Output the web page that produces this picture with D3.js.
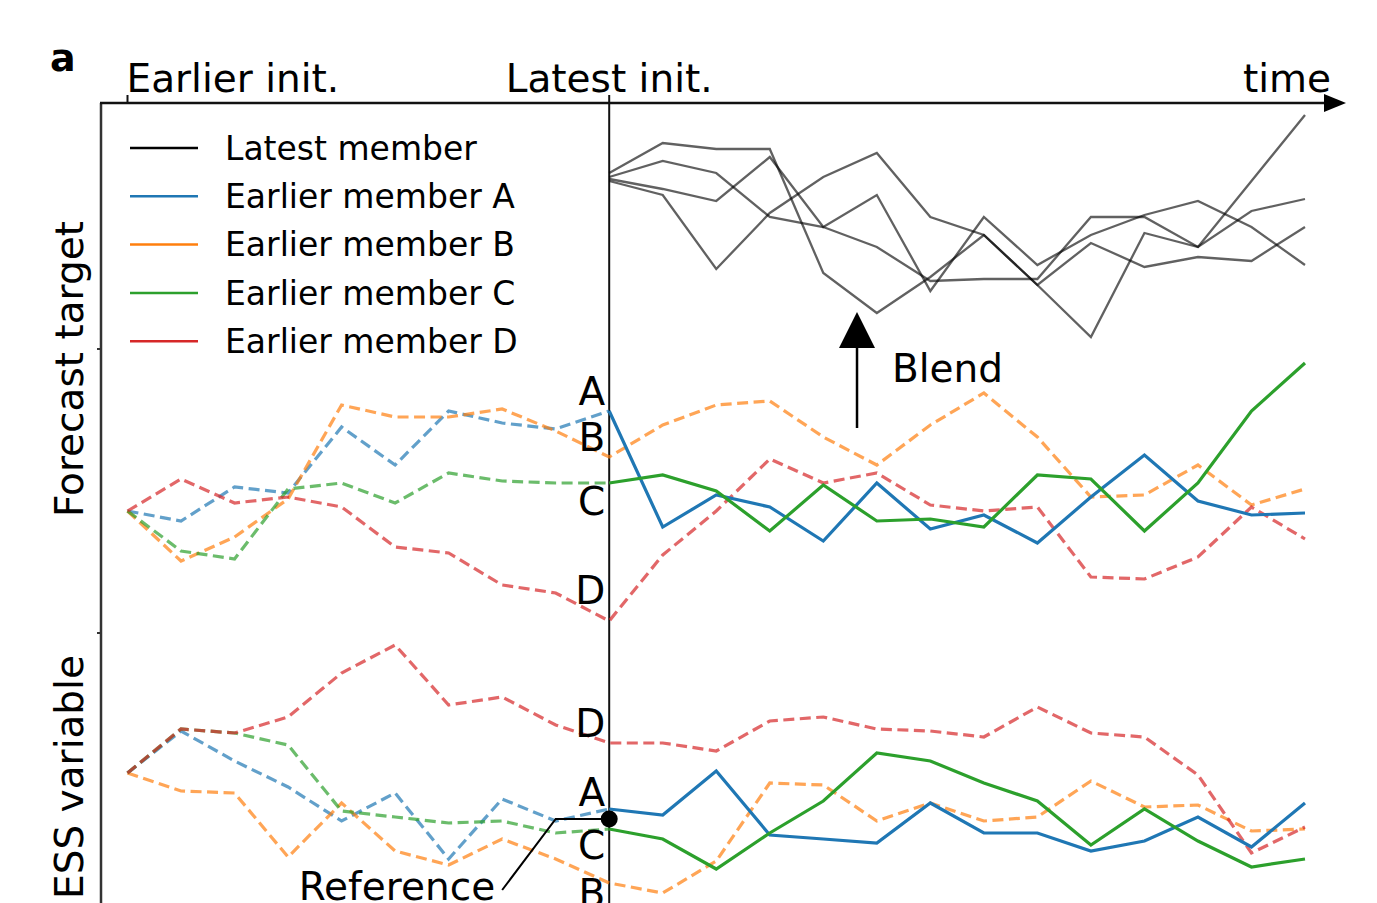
<!DOCTYPE html>
<html>
<head>
<meta charset="utf-8">
<script src="https://cdn.jsdelivr.net/npm/d3@7"></script>
<style>
  body { margin: 0; background: #fff; }
  svg { display: block; }
  text { font-family: "DejaVu Sans", sans-serif; fill: #000; }
</style>
</head>
<body>
<svg id="chart" width="1377" height="903"></svg>
<script>
// time steps: 0 = earlier init, 9 = latest init, 22 = end of forecast
const steps = d3.range(23);
const latestInit = 9;

const members = ['A', 'B', 'C', 'D'];
const memberColors = ['#1f77b4', '#ff7f0e', '#2ca02c', '#d62728'];
const solidAfterInit = [true, false, true, false];
const legendLabels = ['Latest member', 'Earlier member A', 'Earlier member B', 'Earlier member C', 'Earlier member D'];

// latest members, forecast target, steps 9..22
const latestMembers = [
  [16.9, 18.4, 18.1, 18.1, 11.9, 9.9, 11.7, 13.8, 11.3, 8.7, 13.9, 13.2, 16.5, 19.8],
  [16.7, 17.5, 16.9, 14.7, 14.2, 13.2, 11.5, 11.6, 11.6, 14.7, 14.7, 13.2, 15.0, 15.6],
  [16.6, 16.1, 15.5, 17.7, 14.2, 15.8, 11.0, 14.7, 12.3, 13.8, 14.8, 15.5, 14.2, 12.3],
  [16.5, 15.8, 12.1, 14.9, 16.7, 17.9, 14.7, 13.8, 11.3, 13.4, 12.2, 12.7, 12.5, 14.2]
];

// earlier members, forecast target, steps 0..22
const targetA = [0, -0.5, 1.2, 0.9, 4.2, 2.3, 5.0, 4.4, 4.1, 5.0, -0.8, 0.8, 0.2, -1.5, 1.4, -0.9, -0.2, -1.6, 0.7, 2.8, 0.5, -0.2, -0.1];
const targetB = [0, -2.5, -1.3, 0.6, 5.3, 4.7, 4.7, 5.1, 4.0, 2.7, 4.3, 5.3, 5.5, 3.7, 2.3, 4.3, 5.9, 3.7, 0.7, 0.8, 2.3, 0.3, 1.1];
const targetC = [0, -2.0, -2.4, 1.1, 1.4, 0.4, 1.9, 1.5, 1.4, 1.4, 1.8, 1.0, -1.0, 1.3, -0.5, -0.4, -0.8, 1.8, 1.6, -1.0, 1.4, 5.0, 7.4];
const targetD = [0, 1.6, 0.4, 0.7, 0.2, -1.8, -2.1, -3.7, -4.1, -5.5, -2.2, 0.0, 2.6, 1.4, 1.9, 0.3, 0.0, 0.2, -3.3, -3.4, -2.3, 0.2, -1.4];

// earlier members, ESS variable, steps 0..22
const essA = [0, 2.1, 0.6, -0.7, -2.4, -1.0, -4.3, -1.3, -2.4, -1.8, -2.1, 0.1, -3.1, -3.3, -3.5, -1.5, -3.0, -3.0, -3.9, -3.4, -2.2, -3.7, -1.5];
const essB = [0, -0.9, -1.0, -4.2, -1.5, -3.9, -4.6, -3.3, -4.3, -5.5, -6.0, -4.4, -0.5, -0.6, -2.4, -1.5, -2.4, -2.2, -0.4, -1.7, -1.6, -2.9, -2.8];
const essC = [0, 2.2, 2.0, 1.4, -1.9, -2.2, -2.5, -2.4, -3.0, -2.8, -3.3, -4.8, -3.0, -1.4, 1.0, 0.6, -0.5, -1.4, -3.6, -1.8, -3.4, -4.7, -4.3];
const essD = [0, 2.2, 2.0, 2.8, 5.0, 6.4, 3.4, 3.8, 2.4, 1.5, 1.5, 1.1, 2.6, 2.8, 2.2, 2.1, 1.8, 3.3, 2.0, 1.8, -0.1, -4.0, -2.7];

// letters next to the latest init line (value where the letter sits)
const targetLetterValues = [6.0, 3.7, 0.5, -3.95];
const essLetterValues = [-0.95, -6.0, -3.6, 2.5];
const referenceValue = -2.3;

const svg = d3.select('#chart');
const fontSize = 39;

const x = d3.scaleLinear().domain([0, 22]).range([127.5, 1305]);
const yTarget = d3.scaleLinear().domain([-6, 20]).range([631, 111]);
const yEss = d3.scaleLinear().domain([-6.5, 7]).range([903, 633]);

const targetSeries = [targetA, targetB, targetC, targetD];
const essSeries = [essA, essB, essC, essD];

// axes / frame
const axisTop = 103;
const axisLeft = 101;

svg.append('line')
  .attr('x1', axisLeft).attr('x2', axisLeft)
  .attr('y1', axisTop).attr('y2', 903)
  .attr('stroke', '#333').attr('stroke-width', 2.5);

// small ticks on the left spine at the panel edges
[yTarget(8.1), yEss(7)].forEach(ty => {
  svg.append('line')
    .attr('x1', axisLeft - 4).attr('x2', axisLeft)
    .attr('y1', ty).attr('y2', ty)
    .attr('stroke', '#333').attr('stroke-width', 2);
});

// latest init vertical line
svg.append('line')
  .attr('x1', x(latestInit)).attr('x2', x(latestInit))
  .attr('y1', axisTop - 8).attr('y2', 903)
  .attr('stroke', '#111').attr('stroke-width', 2);

// earlier init tick
svg.append('line')
  .attr('x1', x(0)).attr('x2', x(0))
  .attr('y1', axisTop - 8).attr('y2', axisTop)
  .attr('stroke', '#111').attr('stroke-width', 2);

// time axis with arrow
svg.append('line')
  .attr('x1', axisLeft - 1).attr('x2', 1330)
  .attr('y1', axisTop).attr('y2', axisTop)
  .attr('stroke', '#111').attr('stroke-width', 2.5);
svg.append('path')
  .attr('d', `M1324,${axisTop - 9} L1346,${axisTop} L1324,${axisTop + 9} Z`)
  .attr('fill', '#000');

svg.append('text').attr('x', x(0) - 1).attr('y', 92)
  .attr('font-size', fontSize).text('Earlier init.');
svg.append('text').attr('x', x(latestInit)).attr('y', 92)
  .attr('font-size', fontSize).attr('text-anchor', 'middle').text('Latest init.');
svg.append('text').attr('x', 1331).attr('y', 92)
  .attr('font-size', fontSize).attr('text-anchor', 'end').text('time');

svg.append('text').attr('x', 50).attr('y', 71)
  .attr('font-size', 38).attr('font-weight', 'bold').text('a');

// y labels
svg.append('text')
  .attr('transform', `translate(83,${(axisTop + yTarget.range()[0]) / 2 + 2}) rotate(-90)`)
  .attr('font-size', fontSize).attr('text-anchor', 'middle').text('Forecast target');
svg.append('text')
  .attr('transform', `translate(83,${yEss(0) + 4}) rotate(-90)`)
  .attr('font-size', fontSize).attr('text-anchor', 'middle').text('ESS variable');

// line generators
const lineTarget = d3.line().x(d => x(d[0])).y(d => yTarget(d[1]));
const lineEss = d3.line().x(d => x(d[0])).y(d => yEss(d[1]));

// latest members (grey)
latestMembers.forEach(vals => {
  svg.append('path')
    .datum(vals.map((v, i) => [latestInit + i, v]))
    .attr('d', lineTarget)
    .attr('fill', 'none')
    .attr('stroke', '#000').attr('stroke-opacity', 0.62)
    .attr('stroke-width', 2.3)
    .attr('stroke-linejoin', 'miter');
});

function drawMembers(seriesList, line) {
  // dashed parts first
  seriesList.forEach((vals, m) => {
    const pts = steps.map(i => [i, vals[i]]);
    const dashed = solidAfterInit[m] ? pts.slice(0, latestInit + 1) : pts;
    svg.append('path')
      .datum(dashed)
      .attr('d', line)
      .attr('fill', 'none')
      .attr('stroke', memberColors[m]).attr('stroke-opacity', 0.7)
      .attr('stroke-width', 3.2)
      .attr('stroke-dasharray', '11,5.5');
  });
  seriesList.forEach((vals, m) => {
    if (!solidAfterInit[m]) return;
    const pts = steps.map(i => [i, vals[i]]).slice(latestInit);
    svg.append('path')
      .datum(pts)
      .attr('d', line)
      .attr('fill', 'none')
      .attr('stroke', memberColors[m])
      .attr('stroke-width', 3.2);
  });
}

drawMembers(targetSeries, lineTarget);
drawMembers(essSeries, lineEss);

// letters at latest init
members.forEach((name, m) => {
  svg.append('text')
    .attr('x', x(latestInit) - 4).attr('y', yTarget(targetLetterValues[m]))
    .attr('dy', '0.36em').attr('text-anchor', 'end')
    .attr('font-size', fontSize).text(name);
  svg.append('text')
    .attr('x', x(latestInit) - 4).attr('y', yEss(essLetterValues[m]))
    .attr('dy', '0.36em').attr('text-anchor', 'end')
    .attr('font-size', fontSize).text(name);
});

// blend arrow
const blendStep = 13.63;
svg.append('line')
  .attr('x1', x(blendStep)).attr('x2', x(blendStep))
  .attr('y1', yTarget(4.15)).attr('y2', yTarget(8.3))
  .attr('stroke', '#000').attr('stroke-width', 2.5);
svg.append('path')
  .attr('d', `M${x(blendStep) - 18},${yTarget(8.15)} L${x(blendStep)},${yTarget(9.95)} L${x(blendStep) + 18},${yTarget(8.15)} Z`)
  .attr('fill', '#000');
svg.append('text')
  .attr('x', x(blendStep) + 35).attr('y', yTarget(7.15))
  .attr('dy', '0.36em').attr('font-size', fontSize).text('Blend');

// reference point
svg.append('path')
  .attr('d', `M${x(7)},${yEss(-5.85)} L${x(8)},${yEss(referenceValue)} L${x(latestInit)},${yEss(referenceValue)}`)
  .attr('fill', 'none').attr('stroke', '#000').attr('stroke-width', 2);
svg.append('circle')
  .attr('cx', x(latestInit)).attr('cy', yEss(referenceValue))
  .attr('r', 8.5).attr('fill', '#000');
svg.append('text')
  .attr('x', x(7) - 7).attr('y', 900)
  .attr('text-anchor', 'end').attr('font-size', fontSize).text('Reference');

// legend
const legend = svg.append('g').attr('transform', 'translate(130,148)');
legendLabels.forEach((label, k) => {
  const g = legend.append('g').attr('transform', `translate(0,${k * 48.3})`);
  g.append('line')
    .attr('x1', 0).attr('x2', 68)
    .attr('stroke', k === 0 ? '#000' : memberColors[k - 1])
    .attr('stroke-width', 2.5);
  g.append('text')
    .attr('x', 95).attr('dy', '0.36em')
    .attr('font-size', 33).text(label);
});
</script>
</body>
</html>
